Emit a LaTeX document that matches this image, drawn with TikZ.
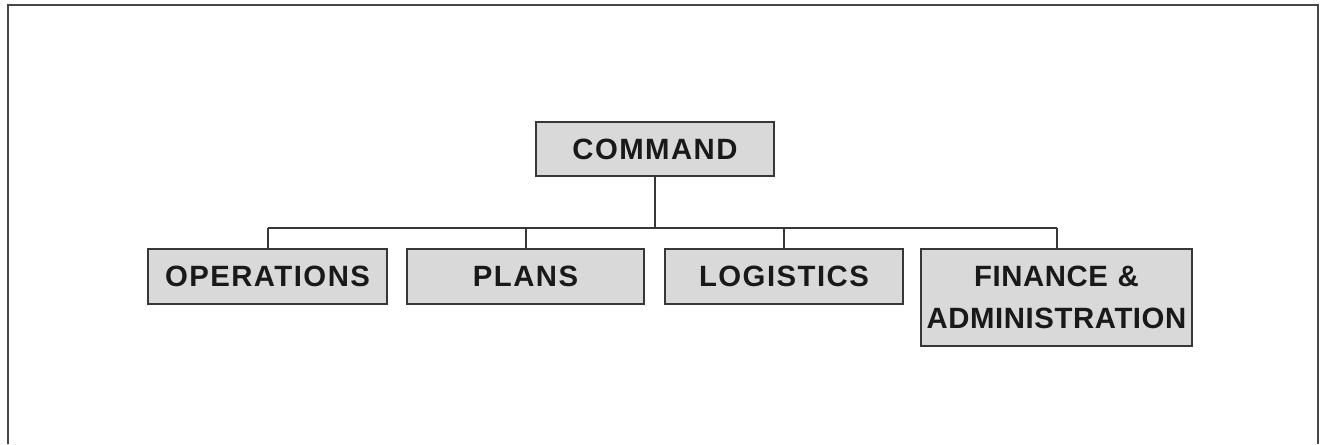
\documentclass[tikz,border=0pt]{standalone}
\usepackage{fontspec}
\setmainfont{Liberation Sans}[LetterSpace=5]
\newfontfamily\finfont{Liberation Sans}[LetterSpace=2]
\definecolor{boxgray}{RGB}{217,217,217}
\definecolor{edgegray}{RGB}{55,55,55}
\definecolor{framegray}{RGB}{70,70,70}
\begin{document}
\begin{tikzpicture}[x=0.75pt,y=-0.75pt,
  orgbox/.style={draw=edgegray, fill=boxgray, line width=1.5pt, rectangle, inner sep=0pt,
    align=center, font=\bfseries\fontsize{22}{31.5}\selectfont, text=black!90},
  link/.style={draw=edgegray, line width=1.5pt}]
\useasboundingbox (0,0) rectangle (1322,444);
\fill[white] (0,0) rectangle (1322,444);
\draw[framegray, line width=2.2pt] (8,444) -- (8,5) -- (1318,5) -- (1318,444);
\node[orgbox, minimum width=238*0.75pt, minimum height=54*0.75pt] (cmd) at (655,149) {COMMAND};
\node[orgbox, minimum width=239*0.75pt, minimum height=55*0.75pt] (ops) at (267.5,276.5) {OPERATIONS};
\node[orgbox, minimum width=237*0.75pt, minimum height=55*0.75pt] (pln) at (525.5,276.5) {PLANS};
\node[orgbox, minimum width=238*0.75pt, minimum height=55*0.75pt] (log) at (784,276.5) {LOGISTICS};
\node[orgbox, font=\finfont\bfseries\fontsize{22}{31.5}\selectfont, minimum width=271*0.75pt, minimum height=97*0.75pt, text width=265*0.75pt] (fin) at (1056.5,297.5) {FINANCE \&\\ADMINISTRATION};
\coordinate (bus) at (656,228);
\draw[link] (cmd.south) -- (cmd.south |- bus);
\draw[link] (ops.north |- bus) -- (fin.north |- bus);
\foreach \n in {ops,pln,log,fin} \draw[link] (\n.north |- bus) -- (\n.north);
\end{tikzpicture}
\end{document}
